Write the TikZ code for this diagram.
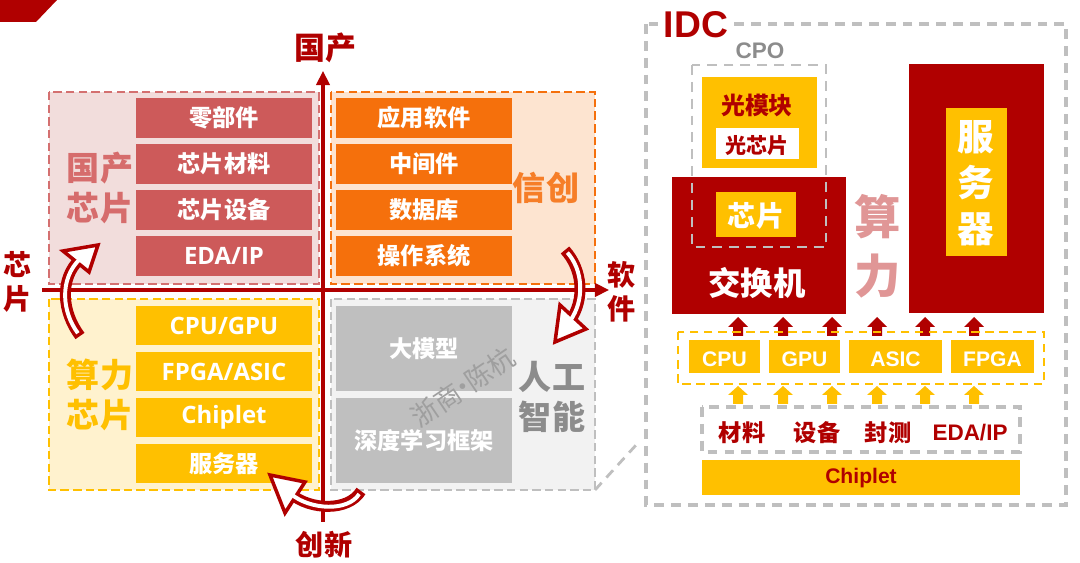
\documentclass[tikz,border=0pt]{standalone}
\usepackage{fontspec}
\setmainfont{Noto Sans CJK SC}
\newfontfamily\arialfont{Liberation Sans}
\newfontfamily\segoefont{Open Sans}
\usetikzlibrary{arrows.meta}

\definecolor{idcred}{RGB}{176,0,0}
\definecolor{gcpink}{RGB}{205,90,90}
\definecolor{gcpinkbg}{RGB}{242,221,220}
\definecolor{gcpinkln}{RGB}{212,112,112}
\definecolor{gclabel}{RGB}{214,108,108}
\definecolor{xcorange}{RGB}{245,112,12}
\definecolor{xcorangebg}{RGB}{253,228,208}
\definecolor{xclabel}{RGB}{246,126,40}
\definecolor{slyellow}{RGB}{255,192,0}
\definecolor{slyellowbg}{RGB}{255,242,206}
\definecolor{aigray}{RGB}{191,191,191}
\definecolor{aigraybg}{RGB}{242,242,242}
\definecolor{aitext}{RGB}{140,140,140}
\definecolor{slpink}{RGB}{224,150,150}

\begin{document}
\begin{tikzpicture}[x=0.025cm, y=-0.025cm,
    quadbox/.style={line width=1.4pt, dash pattern=on 6pt off 3pt},
    cell/.style={text=white, font=\fontsize{16.5}{19}\selectfont\bfseries},
    latincell/.style={text=white, font=\segoefont\fontsize{17}{19}\selectfont\bfseries},
    grouplabel/.style={font=\fontsize{23.5}{28.5}\selectfont\bfseries, align=center},
    axislabel/.style={text=idcred, font=\fontsize{20}{24.2}\selectfont\bfseries, align=center},
    axisline/.style={idcred, line width=2.2pt, -{Triangle[length=10pt, width=9.5pt]}},
    swooshout/.style={idcred, line width=7.8pt},
    swooshin/.style={white, line width=2.8pt, shorten <=2.5pt},
    swooshhead/.style={fill=white, draw=idcred, line width=2.5pt, line join=miter},
    graydash/.style={aigray, line width=2pt, dash pattern=on 7pt off 5pt},
    chipcell/.style={text=white, font=\arialfont\fontsize{15}{18}\selectfont\bfseries},
    redtext/.style={text=idcred, font=\fontsize{16.5}{19}\selectfont\bfseries},
  ]
  \useasboundingbox (0,0) rectangle (1080,563);

  % banner
  \fill[idcred] (0,0) -- (57,0) -- (36,22) -- (0,22) -- cycle;

  % four quadrants
  \draw[quadbox, gcpinkln, fill=gcpinkbg] (49,92) rectangle (319,284);
  \draw[quadbox, xcorange, fill=xcorangebg] (331,92) rectangle (595,284);
  \draw[quadbox, slyellow, fill=slyellowbg] (49,299) rectangle (319,490);
  \draw[quadbox, aigray, fill=aigraybg] (331,299) rectangle (595,490);

  % domestic chips
  \fill[gcpink] (136,98) rectangle (312,138);
  \fill[gcpink] (136,144) rectangle (312,184);
  \fill[gcpink] (136,190) rectangle (312,230);
  \fill[gcpink] (136,236) rectangle (312,276);
  \node[cell] (lbj) at (224,118) {零部件};
  \node[cell] (xpcl) at (224,164) {芯片材料};
  \node[cell] (xpsb) at (224,210) {芯片设备};
  \node[latincell] (edaip) at (224,256) {EDA/IP};
  \node[grouplabel, text=gclabel] (gcxp) at (100,188) {国产\\芯片};

  % xinchuang
  \fill[xcorange] (336,98) rectangle (512,138);
  \fill[xcorange] (336,144) rectangle (512,184);
  \fill[xcorange] (336,190) rectangle (512,230);
  \fill[xcorange] (336,236) rectangle (512,276);
  \node[cell] (yyrj) at (424,118) {应用软件};
  \node[cell] (zjj) at (424,164) {中间件};
  \node[cell] (sjk) at (424,210) {数据库};
  \node[cell] (czxt) at (424,256) {操作系统};
  \node[grouplabel, text=xclabel] (xc) at (546,188) {信创};

  % compute chips
  \fill[slyellow] (136,306) rectangle (312,345);
  \fill[slyellow] (136,352) rectangle (312,391);
  \fill[slyellow] (136,398) rectangle (312,437);
  \fill[slyellow] (136,444) rectangle (312,483);
  \node[latincell] (cpugpu) at (224,325.5) {CPU/GPU};
  \node[latincell] (fpgaasic) at (224,371.5) {FPGA/ASIC};
  \node[latincell] (chipletl) at (224,417.5) {Chiplet};
  \node[cell] (fwql) at (224,463.5) {服务器};
  \node[grouplabel, text=slyellow] (slxp) at (100,395) {算力\\芯片};

  % ai
  \fill[aigray] (336,306) rectangle (512,391);
  \fill[aigray] (336,398) rectangle (512,483);
  \node[cell] (dmx) at (424,349) {大模型};
  \node[cell] (sdxx) at (424,441) {深度学习框架};
  \node[grouplabel, text=aitext] (rgzn) at (552,397) {人工\\智能};

  \node[rotate=34, text=gray!75, inner sep=0pt, font=\fontsize{19}{21}\selectfont] (wm) at (463,387) {浙商\kern-0.3em·\kern-0.3em陈杭};

  % zoom line to IDC
  \coordinate (aicorner) at (595,490);
  \coordinate (zoomend) at (637,444);
  \draw[aigray, line width=2pt, dash pattern=on 7pt off 5pt] (aicorner) -- (zoomend);

  % axes
  \coordinate (hl) at (42,290);
  \coordinate (hr) at (609,290);
  \coordinate (vb) at (323,522);
  \coordinate (vt) at (323,71);
  \draw[axisline] (hl) -- (hr);
  \draw[axisline] (vb) -- (vt);
  \node[axislabel, font=\fontsize{22}{24}\selectfont\bfseries] (guochan) at (325,48) {国产};
  \node[axislabel] (chuangxin) at (324,545) {创新};
  \node[axislabel] (xinpian) at (18,282) {芯\\片};
  \node[axislabel] (ruanjian) at (622,292) {软\\件};

  % curved arrows
  \coordinate (sa1) at (80,336);
  \coordinate (sb1) at (80,259);
  \draw[swooshout] (sa1) .. controls (62,312) and (59,279) .. (sb1);
  \filldraw[swooshhead] (63,251) -- (98,245) -- (89,272) -- cycle;
  \draw[swooshin] (sa1) .. controls (62,312) and (59,279) .. (sb1);

  \coordinate (sa2) at (565,250);
  \coordinate (sb2) at (570,321);
  \draw[swooshout] (sa2) .. controls (583,270) and (585,300) .. (sb2);
  \filldraw[swooshhead] (560,305) -- (555,342) -- (586,329) -- cycle;
  \draw[swooshin] (sa2) .. controls (583,270) and (585,300) .. (sb2);

  \coordinate (sa3) at (361,491);
  \coordinate (sb3) at (291,494);
  \draw[swooshout] (sa3) .. controls (348,512) and (310,510) .. (sb3);
  \filldraw[swooshhead] (305,482) -- (270,475) -- (285,513) -- cycle;
  \draw[swooshin] (sa3) .. controls (348,512) and (310,510) .. (sb3);

  % IDC
  \draw[graydash, line width=2.2pt] (646,24) rectangle (1066,505);
  \node[fill=white, inner xsep=4pt, inner ysep=1pt, text=idcred, font=\arialfont\fontsize{26.5}{30}\selectfont\bfseries] (idc) at (696,25) {IDC};
  \node[text=aitext, font=\arialfont\fontsize{16}{18}\selectfont\bfseries] (cpo) at (760,51) {CPO};

  \fill[slyellow] (702,77) rectangle (817,168);
  \fill[white] (716,128) rectangle (799,159);
  \node[redtext, font=\fontsize{17}{19}\selectfont\bfseries] (gmk) at (757,105) {光模块};
  \node[redtext, font=\fontsize{15}{17}\selectfont\bfseries] (gxp) at (757,146) {光芯片};

  \fill[idcred] (672,177) rectangle (846,314);
  \fill[slyellow] (716,192) rectangle (796,237);
  \node[cell, font=\fontsize{20}{22}\selectfont\bfseries] (jhxp) at (756,216) {芯片};
  \node[cell, font=\fontsize{23}{25}\selectfont\bfseries] (jhj) at (757,283) {交换机};
  \draw[aigray, line width=1.6pt, dash pattern=on 7pt off 5pt] (692,65) rectangle (826,247);

  \node[text=slpink, font=\fontsize{33}{42}\selectfont\bfseries, align=center] (sl) at (878,246) {算\\力};

  \fill[idcred] (909,64) rectangle (1044,313);
  \fill[slyellow] (946,108) rectangle (1007,256);
  \node[cell, font=\fontsize{26}{32.7}\selectfont\bfseries, align=center] (fwq) at (976,183) {服\\务\\器};

  \foreach \ax in {738,783,832,877,925,974}{
    \fill[idcred] (\ax,317) -- (\ax+10,327) -- (\ax+5,327) -- (\ax+5,336) -- (\ax-5,336) -- (\ax-5,327) -- (\ax-10,327) -- cycle;
    \fill[slyellow] (\ax,386) -- (\ax+10,395) -- (\ax+5,395) -- (\ax+5,404) -- (\ax-5,404) -- (\ax-5,395) -- (\ax-10,395) -- cycle;
  }

  \draw[slyellow, line width=1.6pt, dash pattern=on 6pt off 4pt] (678,332) rectangle (1044,384);
  \fill[slyellow] (689,340) rectangle (760,373);
  \fill[slyellow] (769,340) rectangle (840,373);
  \fill[slyellow] (849,340) rectangle (942,373);
  \fill[slyellow] (951,340) rectangle (1034,373);
  \node[chipcell] (cpu) at (724.5,359) {CPU};
  \node[chipcell] (gpu) at (804.5,359) {GPU};
  \node[chipcell] (asic) at (895.5,359) {ASIC};
  \node[chipcell] (fpga) at (992.5,359) {FPGA};

  \draw[graydash, line width=2.2pt] (702,407) rectangle (1020,452);
  \node[redtext] (cl) at (742,433) {材料};
  \node[redtext] (sb) at (817,433) {设备};
  \node[redtext] (fc) at (888,433) {封测};
  \node[redtext, font=\arialfont\fontsize{16}{18}\selectfont\bfseries] (eda) at (970,433) {EDA/IP};

  \fill[slyellow] (702,460) rectangle (1020,495);
  \node[redtext, font=\arialfont\fontsize{15}{18}\selectfont\bfseries] (chiplet) at (861,478) {Chiplet};
\end{tikzpicture}
\end{document}
